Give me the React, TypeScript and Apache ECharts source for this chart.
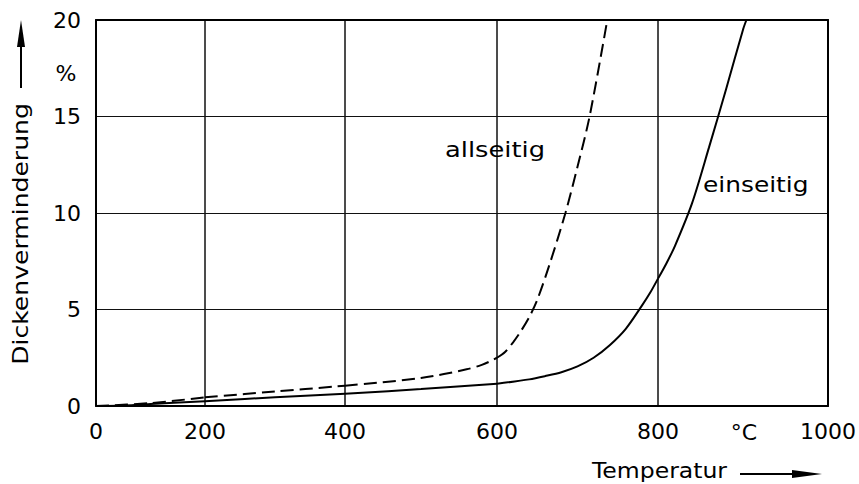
import React, { useEffect, useRef } from "react";
import * as echarts from "echarts";

// Temperature tick labels (°C) and percent ticks
const tempTicks = [0, 200, 400, 600, 800, 1000];
const pctTicks = [0, 5, 10, 15, 20];

// einseitig (solid): [temperature °C, Dickenverminderung %]
const einseitig: [number, number][] = [
  [0, 0], [50, 0.03], [100, 0.1], [200, 0.25], [300, 0.45], [400, 0.63],
  [500, 0.88], [600, 1.15], [640, 1.38], [660, 1.55], [680, 1.75], [700, 2.05],
  [720, 2.5], [740, 3.15], [760, 4.0], [780, 5.2], [790, 5.85], [800, 6.6],
  [810, 7.4], [820, 8.3], [840, 10.5], [860, 13.4], [880, 16.4], [900, 19.5], [904, 20],
];

// allseitig (dashed)
const allseitig: [number, number][] = [
  [0, 0], [100, 0.15], [200, 0.45], [300, 0.75], [400, 1.05], [500, 1.45],
  [560, 1.9], [580, 2.13], [590, 2.3], [600, 2.5], [610, 2.8], [620, 3.3],
  [630, 3.9], [640, 4.6], [650, 5.5], [665, 7.3], [685, 10], [700, 12.4],
  [715, 15], [737, 20],
];

// Layout: pixel edges of each 200 °C band (the scanned axis is non-uniform)
const bandEdges = [96, 205, 345, 497, 658, 829];
const TOP = 20;
const HEIGHT = 386;
const FONT = "DejaVu Sans";

export default function App() {
  const ref = useRef<HTMLDivElement>(null);

  useEffect(() => {
    if (!ref.current) return;
    const chart = echarts.init(ref.current, undefined, { renderer: "svg" });
    const nb = tempTicks.length - 1;
    const yMin = pctTicks[0];
    const yMax = pctTicks[pctTicks.length - 1];
    const yStep = pctTicks[1] - pctTicks[0];

    const grids: any[] = [];
    const xAxes: any[] = [];
    const yAxes: any[] = [];
    const series: any[] = [];

    for (let i = 0; i < nb; i++) {
      const lo = tempTicks[i];
      const hi = tempTicks[i + 1];
      grids.push({
        left: bandEdges[i],
        width: bandEdges[i + 1] - bandEdges[i],
        top: TOP,
        height: HEIGHT,
        show: true,
        borderColor: "#111",
        borderWidth: 1,
        backgroundColor: "transparent",
      });
      xAxes.push({
        gridIndex: i,
        type: "value",
        min: lo,
        max: hi,
        interval: hi - lo,
        position: "bottom",
        axisLine: { show: true, onZero: false, lineStyle: { color: "#000", width: 2 } },
        axisTick: { show: false },
        splitLine: { show: false },
        axisLabel: {
          showMinLabel: true,
          showMaxLabel: i === nb - 1,
          color: "#000",
          fontSize: 22,
          fontFamily: FONT,
          margin: 14,
          formatter: (v: number) => String(v),
        },
      });
      yAxes.push({
        gridIndex: i,
        type: "value",
        min: yMin,
        max: yMax,
        interval: yStep,
        axisLine: { show: i === 0, lineStyle: { color: "#000", width: 2 } },
        axisTick: { show: false },
        splitLine: { show: true, lineStyle: { color: "#111", width: 1 } },
        axisLabel: {
          show: i === 0,
          color: "#000",
          fontSize: 22,
          fontFamily: FONT,
          margin: 15,
        },
      });
    }
    // top frame axes
    for (let i = 0; i < nb; i++) {
      xAxes.push({
        gridIndex: i,
        type: "value",
        min: tempTicks[i],
        max: tempTicks[i + 1],
        interval: tempTicks[i + 1] - tempTicks[i],
        position: "top",
        axisLine: { show: true, onZero: false, lineStyle: { color: "#000", width: 2 } },
        axisTick: { show: false },
        splitLine: { show: false },
        axisLabel: { show: false },
      });
    }
    // right frame axis
    yAxes.push({
      gridIndex: nb - 1,
      type: "value",
      min: yMin,
      max: yMax,
      interval: yStep,
      position: "right",
      axisLine: { show: true, lineStyle: { color: "#000", width: 2 } },
      axisTick: { show: false },
      splitLine: { show: false },
      axisLabel: { show: false },
    });

    const curves = [
      { name: "einseitig", data: einseitig, type: "solid" as any },
      { name: "allseitig", data: allseitig, type: [13, 6] as any },
    ];
    for (const c of curves) {
      for (let i = 0; i < nb; i++) {
        const lo = tempTicks[i];
        const hi = tempTicks[i + 1];
        const seg = c.data.filter(([t]) => t >= lo && t <= hi);
        if (seg.length < 2) continue;
        series.push({
          name: c.name,
          type: "line",
          xAxisIndex: i,
          yAxisIndex: i,
          data: seg,
          showSymbol: false,
          symbol: "none",
          smooth: 0.3,
          lineStyle: { color: "#000", width: 2, type: c.type },
          silent: true,
        });
      }
    }

    const txt = (x: number, y: number, text: string, extra: any = {}, sx = 1) => ({
      type: "text",
      x,
      y,
      scaleX: sx,
      style: {
        text,
        fill: "#000",
        fontSize: 22,
        fontFamily: FONT,
        textAlign: "left",
        textVerticalAlign: "middle",
        ...extra,
      },
    });

    chart.setOption({
      animation: false,
      backgroundColor: "#fff",
      grid: grids,
      xAxis: xAxes,
      yAxis: yAxes,
      series,
      graphic: [
        txt(66, 73, "%", { textAlign: "center" }),
        txt(744, 432, "°C", { textAlign: "center" }),
        txt(445, 150, "allseitig", {}, 1.17),
        txt(703, 185, "einseitig", {}, 1.13),
        txt(592, 470, "Temperatur", {}, 1.07),
        {
          type: "line",
          shape: { x1: 740, y1: 474, x2: 800, y2: 474 },
          style: { stroke: "#000", lineWidth: 2 },
        },
        {
          type: "polygon",
          shape: { points: [[822, 474], [792, 470], [792, 478]] },
          style: { fill: "#000" },
        },
        {
          type: "text",
          x: 21,
          y: 234,
          rotation: Math.PI / 2,
          scaleX: 1.14,
          style: {
            text: "Dickenverminderung",
            fill: "#000",
            fontSize: 22,
            fontFamily: FONT,
            textAlign: "center",
            textVerticalAlign: "middle",
          },
        },
        {
          type: "line",
          shape: { x1: 21, y1: 88, x2: 21, y2: 44 },
          style: { stroke: "#000", lineWidth: 2 },
        },
        {
          type: "polygon",
          shape: { points: [[21, 20], [17, 47], [25, 47]] },
          style: { fill: "#000" },
        },
      ],
    });
    return () => chart.dispose();
  }, []);

  return <div ref={ref} style={{ width: 859, height: 484, position: "absolute", left: 0, top: 0 }} />;
}
